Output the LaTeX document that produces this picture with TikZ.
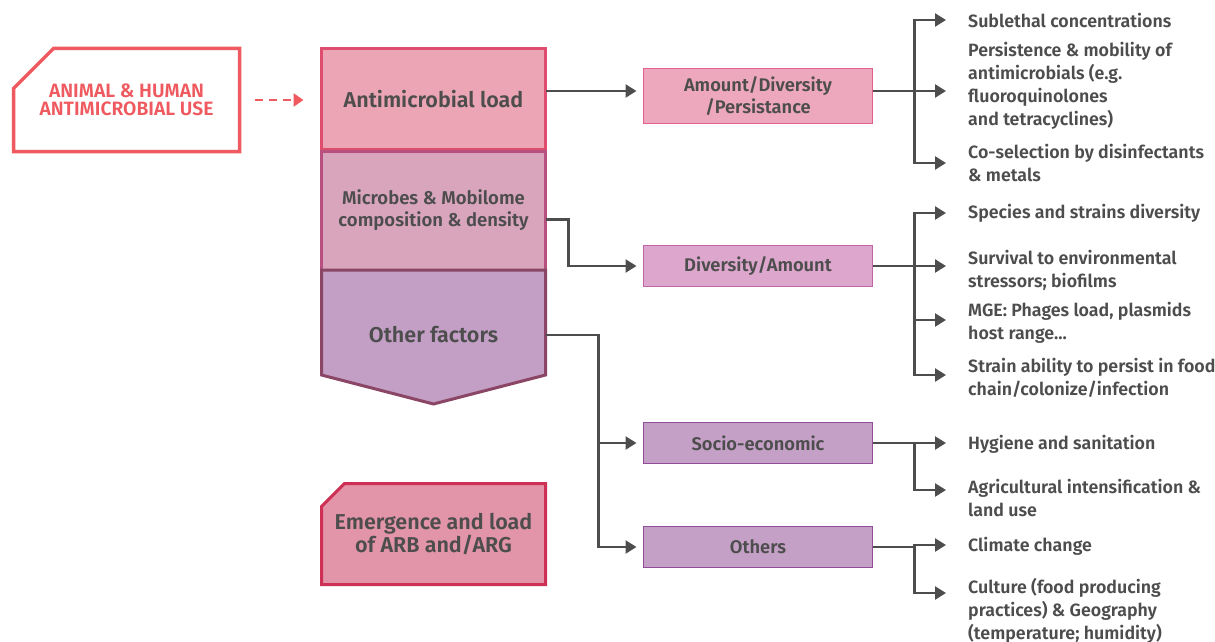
\documentclass[tikz,border=0pt]{standalone}
\usepackage{fontspec}
\setmainfont{Fira Sans}[BoldFont={Fira Sans SemiBold}]
\usetikzlibrary{arrows.meta,shapes.misc,positioning,backgrounds}

\definecolor{usered}{HTML}{EE5A5F}
\definecolor{loadfill}{HTML}{EBA5B4}
\definecolor{loadline}{HTML}{DE4D6D}
\definecolor{microfill}{HTML}{D8A5BD}
\definecolor{microline}{HTML}{B7507F}
\definecolor{otherfill}{HTML}{C39FC5}
\definecolor{otherline}{HTML}{8B4565}
\definecolor{emergefill}{HTML}{E294A8}
\definecolor{emergeline}{HTML}{CE3055}
\definecolor{amountfill}{HTML}{EDA8BD}
\definecolor{amountline}{HTML}{E2608E}
\definecolor{divfill}{HTML}{DCA6CD}
\definecolor{divline}{HTML}{C165AA}
\definecolor{socfill}{HTML}{C4A0C6}
\definecolor{socline}{HTML}{8F4E97}
\definecolor{inkgray}{HTML}{4D4D4D}

\tikzset{
  stackbox/.style={draw, line width=3pt, outer sep=0pt, minimum width=224pt,
    align=center, text=inkgray, font=\bfseries\fontsize{21.5}{23}\selectfont},
  cutbox/.style={chamfered rectangle, chamfered rectangle corners=north west,
    chamfered rectangle sep=24pt, inner ysep=0pt},
  midbox/.style={draw, line width=1.5pt, outer sep=0pt, minimum width=229pt,
    align=center, text=inkgray, font=\bfseries\fontsize{18.3}{22}\selectfont},
  item/.style={anchor=west, align=left, inner xsep=22pt, inner ysep=0pt,
    text=inkgray, font=\bfseries\fontsize{17.8}{23}\selectfont},
  wire/.style={draw=inkgray, line width=2.4pt},
  link/.style={wire, -{Triangle[length=11pt,width=13pt]}},
  dashlink/.style={draw=usered, line width=2.6pt, dash pattern=on 8pt off 6pt,
    -{Triangle[length=10pt,width=13pt]}},
}

\begin{document}
\begin{tikzpicture}[x=1pt,y=-1pt]
  \useasboundingbox (0,0) rectangle (1215,642);

  % left column
  \node[stackbox, cutbox, draw=usered, fill=white, line width=3.5pt, minimum width=226pt,
    minimum height=103pt, text=usered, font=\bfseries\fontsize{19.3}{18}\selectfont]
    (animal) at (126.5,100)
    {\makebox[164pt]{ANIMAL \& HUMAN}\\\makebox[164pt]{ANTIMICROBIAL USE}};
  \node[stackbox, fill=loadfill, draw=loadline, minimum height=101pt]
    (load) at (433.5,99) {Antimicrobial load};
  \node[stackbox, fill=microfill, draw=microline, minimum height=119pt,
    font=\bfseries\fontsize{18.5}{22}\selectfont]
    (micro) at (433.5,210.5) {Microbes \& Mobilome\\composition \& density};
  \draw[line width=3pt, draw=otherline, fill=otherfill]
    (micro.south west) -- (micro.south east) -- ++(0,105) -- ++(-112,29)
    -- ++(-112,-29) -- cycle;
  \node[stackbox, draw=none, minimum height=40pt] (other) at (433.5,335) {Other factors};
  \node[stackbox, draw=none, minimum height=101pt]
    (emerge) at (433.5,534) {Emergence and load\\of ARB and/ARG};

  \draw[dashlink, shorten <=15pt, shorten >=18pt] (animal.east) -- (animal.east -| load.west);

  % middle column
  \node[midbox, fill=amountfill, draw=amountline, minimum height=55pt]
    (amount) at (758,96) {Amount/Diversity\\/Persistance};
  \node[midbox, fill=divfill, draw=divline, minimum height=41pt]
    (div) at (758,266) {Diversity/Amount};
  \node[midbox, fill=socfill, draw=socline, minimum height=41pt]
    (socio) at (758,443) {Socio-economic};
  \node[midbox, fill=socfill, draw=socline, minimum height=41pt]
    (others) at (758,547) {Others};

  \draw[link, shorten >=7pt] ([yshift=8pt]load.east) -- ([yshift=5pt]amount.west);
  \draw[link, shorten >=7pt] ([yshift=-9pt]micro.east) -- ++(23,0) |- (div.west);
  \draw[link, shorten >=7pt] (other.east) -- ++(53,0) |- (socio.west);
  \draw[link, shorten >=7pt] (other.east) -- ++(53,0) |- (others.west);

  % right column
  \node[item] (sublethal) at (946,20) {Sublethal concentrations};
  \node[item] (persist) at (946,86) {Persistence \& mobility of\\antimicrobials (e.g.\\fluoroquinolones\\and tetracyclines)};
  \node[item] (cosel) at (946,163) {Co-selection by disinfectants\\\& metals};
  \node[item] (species) at (946,213) {Species and strains diversity};
  \node[item] (survival) at (946,270) {Survival to environmental\\stressors; biofilms};
  \node[item] (mge) at (946,323) {MGE: Phages load, plasmids\\host range...};
  \node[item] (strain) at (946,378) {Strain ability to persist in food\\chain/colonize/infection};
  \node[item] (hygiene) at (946,444) {Hygiene and sanitation};
  \node[item] (agri) at (946,498) {Agricultural intensification \&\\land use};
  \node[item] (climate) at (946,546) {Climate change};
  \node[item] (culture) at (946,611) {Culture (food producing\\practices) \& Geography\\(temperature; humidity)};

  \coordinate (ja) at ([xshift=42pt,yshift=5pt]amount.east);
  \draw[wire] ([yshift=5pt]amount.east) -- (ja);
  \foreach \n/\s in {sublethal/0,persist/-5,cosel/0}
    \draw[link] (ja) |- ([yshift=\s pt]\n.west);

  \coordinate (jd) at ([xshift=42pt]div.east);
  \draw[wire] (div.east) -- (jd);
  \foreach \n/\s in {species/0,survival/4,mge/3,strain/3}
    \draw[link] (jd) |- ([yshift=\s pt]\n.west);

  \coordinate (js) at ([xshift=42pt]socio.east);
  \draw[wire] (socio.east) -- (js);
  \foreach \n/\s in {hygiene/1,agri/8}
    \draw[link] (js) |- ([yshift=\s pt]\n.west);

  \coordinate (jo) at ([xshift=42pt]others.east);
  \draw[wire] (others.east) -- (jo);
  \foreach \n/\s in {climate/1,culture/18}
    \draw[link] (jo) |- ([yshift=\s pt]\n.west);

  % page and cut-corner box behind the text
  \begin{scope}[on background layer]
    \fill[white] (0,0) rectangle (1215,642);
    \draw[line width=3pt, draw=emergeline, fill=emergefill]
      (emerge.south west) -- (emerge.south east) -- (emerge.north east)
      -- ([xshift=23pt]emerge.north west) -- ([yshift=-23pt]emerge.north west) -- cycle;
  \end{scope}
\end{tikzpicture}
\end{document}
